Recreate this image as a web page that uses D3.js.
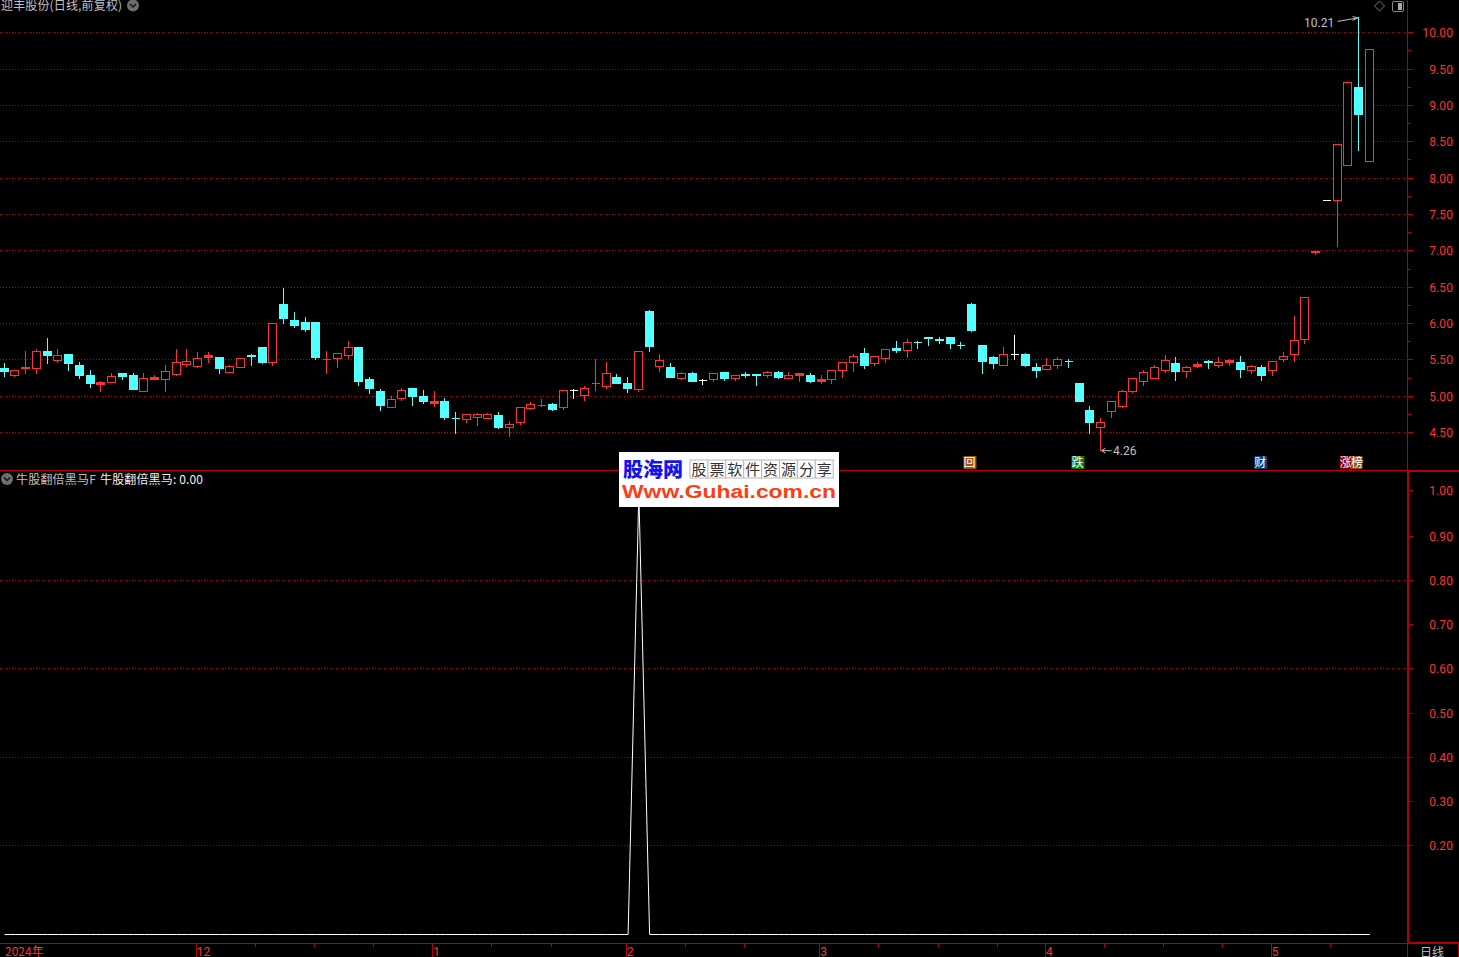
<!DOCTYPE html>
<html><head><meta charset="utf-8">
<script src="https://cdn.jsdelivr.net/npm/d3@7"></script>
<style>html,body{margin:0;padding:0;background:#000;overflow:hidden}svg{display:block}</style>
</head><body><div id="chart"></div>
<script>
const stockName = "迎丰股份(日线,前复权)";
const indicatorName = "牛股翻倍黑马F";
const indicatorReadout = "牛股翻倍黑马: 0.00";
const periodLabel = "日线";

const highs = [5.45,5.36,5.62,5.65,5.80,5.64,5.58,5.46,5.36,5.20,5.31,5.32,5.31,5.31,5.28,5.43,5.65,5.65,5.60,5.60,5.54,5.43,5.52,5.58,5.665,6.005,6.48,6.15,6.08,6.02,5.61,
5.59,5.755,5.675,5.26,5.095,5.00,5.11,5.11,5.08,5.07,4.97,4.78,4.75,4.77,4.77,4.78,4.655,4.85,4.915,4.96,4.905,5.08,5.095,5.14,5.51,5.47,5.30,5.26,5.62,6.18,
5.58,5.455,5.33,5.33,5.235,5.315,5.33,5.29,5.33,5.30,5.345,5.345,5.33,5.315,5.315,5.29,5.36,5.465,5.58,5.66,5.545,5.64,5.755,5.785,5.755,5.81,5.81,5.81,5.74,6.27,
5.70,5.55,5.675,5.84,5.59,5.455,5.525,5.54,5.51,5.18,4.86,4.70,4.93,5.08,5.24,5.36,5.425,5.565,5.54,5.41,5.47,5.495,5.535,5.51,5.55,5.425,5.425,5.48,5.605,6.10,6.36,
6.99,7.69,8.46,9.31,10.21,9.77];
const lows = [5.27,5.27,5.31,5.31,5.445,5.46,5.36,5.25,5.115,5.07,5.19,5.225,5.09,5.065,5.23,5.07,5.29,5.41,5.40,5.46,5.32,5.33,5.39,5.43,5.445,5.43,5.995,5.94,5.885,5.51,5.32,
5.40,5.52,5.15,5.04,4.81,4.85,4.945,4.875,4.905,4.86,4.685,4.49,4.64,4.60,4.70,4.56,4.45,4.615,4.82,4.86,4.81,4.82,4.97,4.945,5.08,5.11,5.18,5.055,5.07,5.62,
5.345,5.26,5.235,5.205,5.165,5.205,5.22,5.22,5.26,5.15,5.26,5.25,5.25,5.205,5.19,5.18,5.18,5.26,5.345,5.385,5.425,5.47,5.605,5.535,5.66,5.70,5.73,5.66,5.66,5.895,
5.315,5.385,5.425,5.51,5.41,5.26,5.37,5.385,5.40,4.93,4.49,4.26,4.71,4.85,5.055,5.15,5.25,5.33,5.22,5.26,5.40,5.385,5.40,5.425,5.26,5.315,5.22,5.29,5.48,5.48,5.73,
6.945,7.69,7.065,8.17,8.38,8.235];
const opens = [5.38,5.28,5.38,5.38,5.62,5.49,5.57,5.42,5.29,5.16,5.19,5.31,5.29,5.065,5.23,5.23,5.30,5.435,5.41,5.53,5.54,5.33,5.39,5.56,5.665,5.465,6.26,6.04,6.01,6.01,5.50,
5.515,5.555,5.675,5.235,5.07,4.85,4.965,5.11,5.00,4.895,4.93,4.70,4.675,4.715,4.70,4.74,4.565,4.645,4.83,4.87,4.89,4.84,5.08,5.005,5.17,5.13,5.26,5.18,5.10,6.17,
5.415,5.40,5.25,5.315,5.22,5.225,5.33,5.245,5.30,5.295,5.28,5.33,5.25,5.28,5.29,5.21,5.225,5.36,5.46,5.59,5.445,5.515,5.66,5.625,5.745,5.81,5.775,5.81,5.705,6.265,
5.70,5.535,5.43,5.575,5.58,5.40,5.375,5.42,5.485,5.18,4.81,4.565,4.785,4.855,5.06,5.21,5.25,5.35,5.455,5.335,5.415,5.48,5.43,5.47,5.47,5.36,5.40,5.35,5.505,5.58,5.78,
6.98,7.69,7.69,8.17,9.25,8.235];
const closes = [5.34,5.36,5.40,5.62,5.555,5.565,5.445,5.28,5.17,5.19,5.275,5.27,5.09,5.25,5.26,5.34,5.47,5.48,5.52,5.555,5.38,5.41,5.52,5.55,5.46,6.005,6.065,5.98,5.925,5.54,5.51,
5.59,5.67,5.205,5.11,4.875,4.955,5.08,5.00,4.93,4.925,4.71,4.69,4.75,4.75,4.75,4.575,4.61,4.845,4.885,4.88,4.82,5.08,5.08,5.105,5.18,5.31,5.18,5.11,5.615,5.69,
5.49,5.26,5.31,5.205,5.22,5.31,5.25,5.285,5.29,5.285,5.325,5.26,5.285,5.31,5.205,5.23,5.355,5.465,5.545,5.425,5.545,5.64,5.635,5.74,5.735,5.80,5.765,5.73,5.695,5.91,
5.48,5.455,5.575,5.575,5.425,5.36,5.42,5.505,5.475,4.93,4.64,4.64,4.925,5.065,5.24,5.325,5.395,5.49,5.345,5.395,5.435,5.47,5.465,5.495,5.37,5.41,5.29,5.48,5.545,5.765,6.36,
6.99,7.69,8.46,9.31,8.875,9.77];

const priceGridValues = [10,9.5,9,8.5,8,7.5,7,6.5,6,5.5,5,4.5];
const priceMinorTicks = [9.75,9.25,8.75,8.25,7.75,7.25,6.75,6.25,5.75,5.25,4.75];
const signalValues = [0,0,0,0,0,0,0,0,0,0,0,0,0,0,0,0,0,0,0,0,0,0,0,0,0,0,0,0,0,0,0,0,
0,0,0,0,0,0,0,0,0,0,0,0,0,0,0,0,0,0,0,0,0,0,0,0,0,0,0,1,0,0,0,0,
0,0,0,0,0,0,0,0,0,0,0,0,0,0,0,0,0,0,0,0,0,0,0,0,0,0,0,0,0,0,0,0,
0,0,0,0,0,0,0,0,0,0,0,0,0,0,0,0,0,0,0,0,0,0,0,0,0,0,0,0,0,0,0,0];
const signalTicks = [1,0.9,0.8,0.7,0.6,0.5,0.4,0.3,0.2];
const signalGrid = [0.8,0.6,0.4,0.2];
const monthLabels = ["12","1","2","3","4","5"];
const monthBars = [18,40,58,76,97,118];
const minorBars = [23.5,29,34.5,45.5,51,63.5,69,81.5,87,92.5,102.5,108,113.5,123.5];
const tags = [{bar:89.8,cls:"回",bg:"#9a5412"},{bar:99.85,cls:"跌",bg:"#0b7a12"},{bar:116.85,cls:"财",bg:"#0c3f78"},{bar:124.8,cls:"涨",bg:"#8a0000"},{bar:125.85,cls:"榜",bg:"#8f5510"}];
const logoCells = ["股","票","软","件","资","源","分","享"];

const W = 1459, H = 957;
const RED = "#ff3232", CYAN = "#54ffff", AXIS = "#b40000", GRID = "#c00000", GRAY = "#c0c0c0";
const CJK = "'Noto Sans CJK SC',sans-serif", NUM = "Roboto,'Noto Sans CJK SC',sans-serif";

const svg = d3.select("#chart").append("svg").attr("width",W).attr("height",H).attr("viewBox",`0 0 ${W} ${H}`).style("background","#000");
const x = d3.scaleLinear().domain([0,127]).range([4.1,1369.35]);
const yP = d3.scaleLinear().domain([4.5,10]).range([432.7,32.7]);
const yS = d3.scaleLinear().domain([0,1]).range([934,492]);
const px = v => Math.floor(v)+0.5;
const bars = d3.range(highs.length);

// gridlines
const grid = svg.append("g").attr("stroke",GRID).attr("stroke-dasharray","1 2").attr("shape-rendering","crispEdges");
grid.selectAll(".p").data(priceGridValues).join("line").attr("class","p").attr("x1",0).attr("x2",1407).attr("y1",d=>px(yP(d))).attr("y2",d=>px(yP(d)));
grid.selectAll(".s").data(signalGrid).join("line").attr("class","s").attr("x1",0).attr("x2",1407).attr("y1",d=>px(yS(d))).attr("y2",d=>px(yS(d)));

// candles
const colorOf = i => closes[i]>opens[i]?RED:closes[i]<opens[i]?CYAN:"#ffffff";
const gc = svg.append("g").attr("shape-rendering","crispEdges");
gc.selectAll(".w").data(bars).join("line").attr("class","w")
  .attr("x1",i=>px(x(i))).attr("x2",i=>px(x(i)))
  .attr("y1",i=>Math.floor(yP(highs[i]))).attr("y2",i=>Math.floor(yP(lows[i]))+1)
  .attr("stroke",colorOf);
gc.selectAll(".b").data(bars).join("path").attr("class","b")
  .attr("d",i=>{
    const a=px(yP(Math.max(opens[i],closes[i]))), b=px(yP(Math.min(opens[i],closes[i])));
    const l=px(x(i))-4, r=px(x(i))+4;
    return `M${l},${a}L${r},${a}L${r},${b}L${l},${b}Z`;
  })
  .attr("stroke",colorOf)
  .attr("fill",i=>{
    const thin=Math.abs(yP(opens[i])-yP(closes[i]))<2.5;
    return closes[i]>opens[i]&&!thin?"#000":colorOf(i);
  });

// signal line
svg.append("path").datum(signalValues)
  .attr("d",d3.line().x((d,i)=>x(i)+0.5).y(d=>yS(d)+0.5))
  .attr("fill","none").attr("stroke","#fff").attr("stroke-width",1);

// frame
const frame = svg.append("g").attr("stroke",AXIS).attr("shape-rendering","crispEdges");
frame.append("line").attr("x1",1407.5).attr("x2",1407.5).attr("y1",0).attr("y2",H);
frame.append("line").attr("x1",1408.5).attr("x2",1408.5).attr("y1",471).attr("y2",943);
frame.append("line").attr("x1",0).attr("x2",W).attr("y1",470.5).attr("y2",470.5);
frame.append("line").attr("x1",1408).attr("x2",W).attr("y1",471.5).attr("y2",471.5);
frame.append("line").attr("x1",0).attr("x2",W).attr("y1",943.5).attr("y2",943.5);
frame.append("line").attr("x1",1408).attr("x2",W).attr("y1",942.5).attr("y2",942.5);
frame.append("line").attr("x1",1458.5).attr("x2",1458.5).attr("y1",943).attr("y2",H);

// right axes
function styleAxis(g,dy){
  g.select(".domain").remove();
  g.selectAll("line").attr("stroke",AXIS).attr("shape-rendering","crispEdges");
  g.selectAll("text").attr("fill",RED).attr("text-anchor","end").attr("x",46).attr("dy",dy)
    .style("font-family",NUM).style("font-size","12px").style("letter-spacing","0.1px");
}
const axP = svg.append("g").attr("transform","translate(1407,0)")
  .call(d3.axisRight(yP).tickValues(priceGridValues).tickSize(6).tickFormat(d3.format(".2f")));
styleAxis(axP,"0.35em");
axP.selectAll(".tick").attr("transform",d=>`translate(0,${px(yP(d))})`);
svg.append("g").attr("transform","translate(1407,0)").selectAll("line").data(priceMinorTicks).join("line")
  .attr("x1",0).attr("x2",4).attr("y1",d=>px(yP(d))).attr("y2",d=>px(yP(d))).attr("stroke",AXIS).attr("shape-rendering","crispEdges");
const axS = svg.append("g").attr("transform","translate(1407,0)")
  .call(d3.axisRight(yS).tickValues(signalTicks).tickSize(6).tickFormat(d3.format(".2f")));
styleAxis(axS,"0.35em");
axS.selectAll(".tick").attr("transform",d=>`translate(0,${px(yS(d))-(d===1?2:0)})`);

// bottom axis
const xb = svg.append("g").attr("stroke",AXIS).attr("shape-rendering","crispEdges");
xb.selectAll(".m").data(monthBars).join("line").attr("class","m").attr("x1",d=>px(x(d-0.12))).attr("x2",d=>px(x(d-0.12))).attr("y1",943).attr("y2",H);
xb.selectAll(".n").data(minorBars).join("line").attr("class","n").attr("x1",d=>px(x(d-0.12))).attr("x2",d=>px(x(d-0.12))).attr("y1",943).attr("y2",947);
const bt = svg.append("g").attr("fill",RED).style("font-family",NUM).style("font-size","12px");
bt.append("text").attr("x",5).attr("y",956).text("2024年").style("font-family",CJK);
bt.selectAll(".t").data(monthBars).join("text").attr("class","t").attr("x",d=>x(d-0.12)+0.5).attr("y",956).text((d,i)=>monthLabels[i]);
svg.append("text").attr("x",1420).attr("y",957).attr("fill",GRAY).style("font-family",CJK).style("font-size","12px").text(periodLabel);

// titles
function chevron(cx,cy){
  svg.append("circle").attr("cx",cx).attr("cy",cy).attr("r",6).attr("fill","#6e6e6e");
  svg.append("path").attr("d",`M${cx-3},${cy-1.5}L${cx},${cy+1.5}L${cx+3},${cy-1.5}`).attr("fill","none").attr("stroke","#111").attr("stroke-width",1.5);
}
svg.append("text").attr("x",1).attr("y",10).attr("fill",GRAY).style("font-family",CJK).style("font-size","12px").style("letter-spacing","0.15px").text(stockName);
chevron(133,5.5);
chevron(7,479);
svg.append("text").attr("x",16).attr("y",483.5).attr("fill",GRAY).style("font-family",CJK).style("font-size","12px").style("letter-spacing","0.2px").text(indicatorName);
svg.append("text").attr("x",100).attr("y",483.5).attr("fill","#f0f0f0").style("font-family",CJK).style("font-size","12px").style("letter-spacing","0.15px").text(indicatorReadout);

// toolbar glyphs
svg.append("path").attr("d","M1379.5,1L1384.5,6L1379.5,11L1374.5,6Z").attr("fill","none").attr("stroke","#777");
svg.append("rect").attr("x",1392.5).attr("y",1.5).attr("width",11).attr("height",10).attr("rx",1.5).attr("fill","none").attr("stroke","#888");
svg.append("rect").attr("x",1398).attr("y",3).attr("width",4).attr("height",7).attr("fill","#aaa");

// high/low annotations
const hiBar = d3.maxIndex(highs), loBar = d3.minIndex(lows);
const note = svg.append("g").attr("fill",GRAY).style("font-family",NUM).style("font-size","12px");
note.append("text").attr("x",x(hiBar)-54.5).attr("y",yP(highs[hiBar])+9.5).text(d3.format(".2f")(highs[hiBar]));
note.append("text").attr("x",x(loBar)+12.5).attr("y",yP(lows[loBar])+5).text(d3.format(".2f")(lows[loBar]));
svg.append("path").attr("d",`M${x(hiBar)-21},${yP(highs[hiBar])+4}L${x(hiBar)-1},${yP(highs[hiBar])+0.5}M${x(hiBar)-6},${yP(highs[hiBar])-1}L${x(hiBar)-1},${yP(highs[hiBar])+0.5}L${x(hiBar)-6},${yP(highs[hiBar])+3}`).attr("fill","none").attr("stroke",GRAY);
svg.append("path").attr("d",`M${x(loBar)+11},${yP(lows[loBar])+0.5}L${x(loBar)+1},${yP(lows[loBar])+0.5}M${x(loBar)+5},${yP(lows[loBar])-2}L${x(loBar)+1},${yP(lows[loBar])+0.5}L${x(loBar)+5},${yP(lows[loBar])+3}`).attr("fill","none").attr("stroke",GRAY);

// tags
const tg = svg.append("g").selectAll("g").data(tags).join("g").attr("transform",d=>`translate(${x(d.bar)},456)`);
tg.append("rect").attr("x",-6).attr("y",0).attr("width",d=>d.cls==="涨"||d.cls==="榜"?11.5:13).attr("height",13).attr("fill",d=>d.bg);
tg.append("text").attr("x",0).attr("y",11).attr("text-anchor","middle").attr("fill","#fff").style("font-family",CJK).style("font-size","12px").text(d=>d.cls);

// logo
const logo = svg.append("g");
logo.append("rect").attr("x",619).attr("y",452).attr("width",220).attr("height",55).attr("fill","#fff");
logo.append("text").attr("x",623).attr("y",476.5).attr("fill","#1414ee").style("font-family",CJK).style("font-weight","900").style("font-size","20px").text("股海网");
const cell = logo.selectAll("g").data(logoCells).join("g").attr("transform",(d,i)=>`translate(${690+i*17.9},460)`);
cell.append("rect").attr("width",17.9).attr("height",18).attr("fill","#fff").attr("stroke","#b8b8b8");
cell.append("text").attr("x",9).attr("y",15).attr("text-anchor","middle").attr("fill","#333").style("font-family","'Noto Sans CJK SC'").style("font-size","15px").text(d=>d);
logo.append("text").attr("x",622).attr("y",497.5).attr("fill","#ff3c14").style("font-family","'Liberation Sans',sans-serif").style("font-weight","700").style("font-size","18px").attr("textLength",214).attr("lengthAdjust","spacingAndGlyphs").text("Www.Guhai.com.cn");
</script></body></html>
